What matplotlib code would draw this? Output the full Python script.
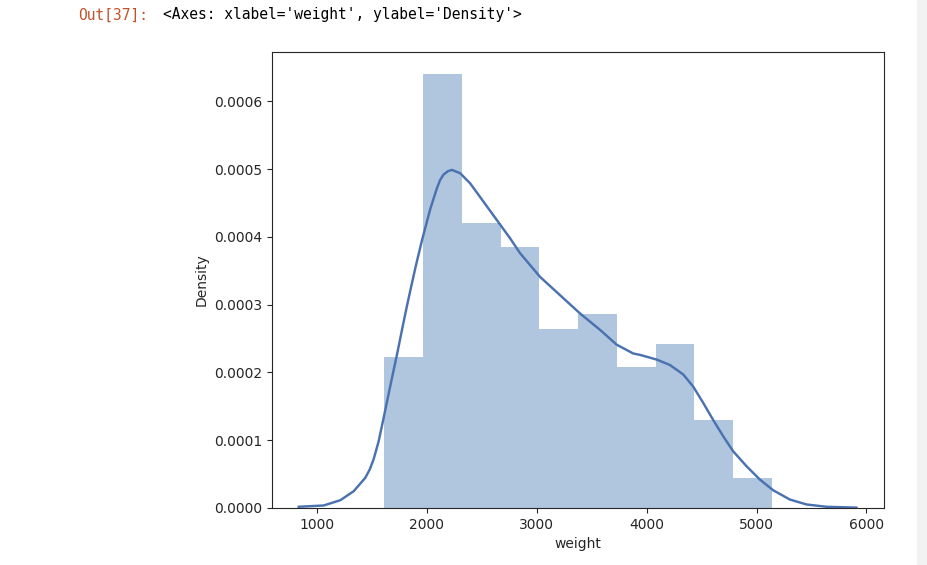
import matplotlib.pyplot as plt
import matplotlib.patches as mpatches
import numpy as np

# histogram of weight (density), 10 bins
bin_edges = [1613, 1965.7, 2318.4, 2671.1, 3023.8, 3376.5, 3729.2, 4081.9, 4434.6, 4787.3, 5140]
bin_density = [0.000223, 0.000641, 0.000420, 0.000385, 0.000264,
               0.000286, 0.000208, 0.000242, 0.000130, 0.0000449]

# kde curve
kde_x = [833, 1060, 1212, 1333, 1439, 1480, 1515, 1560, 1606, 1651, 1690, 1727, 1757,
         1787, 1822, 1857, 1900, 1955, 2030, 2091, 2120, 2151, 2190, 2227, 2303, 2394,
         2515, 2636, 2757, 2848, 3030, 3212, 3394, 3575, 3727, 3878, 3939, 4091, 4212,
         4333, 4424, 4515, 4605, 4696, 4787, 4909, 5030, 5151, 5303, 5455, 5636, 5909]
kde_y = [0.0000018, 0.0000037, 0.0000115, 0.0000247, 0.0000445, 0.000057, 0.000072,
         0.000098, 0.000133, 0.000168, 0.000198, 0.000226, 0.000250, 0.000274, 0.000301,
         0.000327, 0.000358, 0.000395, 0.000441, 0.000472, 0.000484, 0.000492, 0.000497,
         0.000499, 0.000494, 0.000479, 0.000452, 0.000425, 0.000398, 0.000376, 0.000341,
         0.000314, 0.000287, 0.000263, 0.000241, 0.000228, 0.000226, 0.000219, 0.000211,
         0.000197, 0.000179, 0.000155, 0.000130, 0.000106, 0.0000837, 0.0000616,
         0.000042, 0.0000262, 0.0000125, 0.0000052, 0.0000018, 0.0000005]

line_color = '#4a72b0'
bar_color = '#b0c5de'

fig = plt.figure(figsize=(9.28, 5.65), dpi=100)
ax = fig.add_axes([0.2931, 0.1009, 0.6595, 0.8071])

widths = np.diff(bin_edges)
ax.bar(bin_edges[:-1], bin_density, width=widths, align='edge',
       color=bar_color, linewidth=0)
ax.plot(kde_x, kde_y, color=line_color, lw=1.75, solid_joinstyle='round')

ax.set_xlim(590, 6160)
ax.set_ylim(0, 0.000673)
ax.set_xticks([1000, 2000, 3000, 4000, 5000, 6000])
ax.set_yticks([0, 0.0001, 0.0002, 0.0003, 0.0004, 0.0005, 0.0006])
ax.set_yticklabels(['0.0000', '0.0001', '0.0002', '0.0003', '0.0004', '0.0005', '0.0006'])
ax.tick_params(labelcolor='#262626', color='#262626')
ax.set_xlabel('weight', color='#262626')
ax.set_ylabel('Density', color='#262626')
for s in ax.spines.values():
    s.set_color('#262626')

# jupyter output prompt
fig.text(78 / 928, 1 - 15 / 565, 'Out[37]:', color='#c2512a', family='DejaVu Sans Mono',
         fontsize=10.5, va='center', ha='left')
fig.text(163 / 928, 1 - 15 / 565, "<Axes: xlabel='weight', ylabel='Density'>", color='black',
         family='DejaVu Sans Mono', fontsize=10.5, va='center', ha='left')

# grey strip on the right edge of the screenshot
fig.patches.append(mpatches.Rectangle((917 / 928, 0), 11 / 928, 1, transform=fig.transFigure,
                                      color='#f2f2f2', zorder=-1))

fig.savefig('out.png', dpi=100)
